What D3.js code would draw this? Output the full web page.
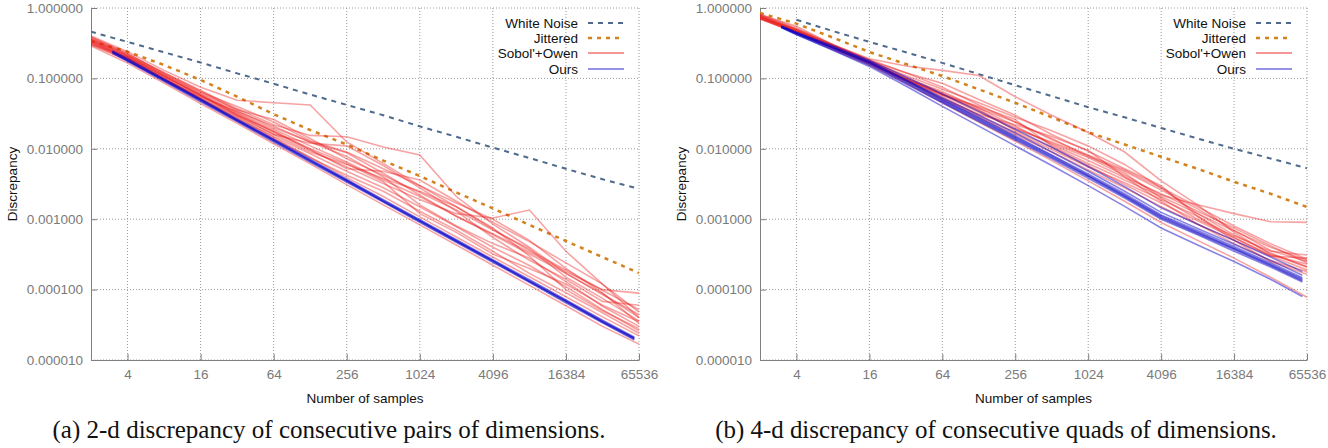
<!DOCTYPE html>
<html><head><meta charset="utf-8">
<script src="https://cdn.jsdelivr.net/npm/d3@7"></script>
<style>body{margin:0;background:#fff;} svg{display:block}</style>
</head><body><svg id="c" width="1328" height="448"></svg>
<script>
// ---------- data ----------
const samples = [2,4,8,16,32,64,128,256,512,1024,2048,4096,8192,16384,32768,65536];
const samplesOurs = [3,4,8,16,32,64,128,256,512,1024,2048,4096,8192,16384,32768,60000];
const xTickLabels = [4,16,64,256,1024,4096,16384,65536];
const yTickValues = [0.00001,0.0001,0.001,0.01,0.1,1];
const legendLabels = ["White Noise","Jittered","Sobol'+Owen","Ours"];
const captions = ["(a) 2-d discrepancy of consecutive pairs of dimensions.",
                  "(b) 4-d discrepancy of consecutive quads of dimensions."];

// 2-d
const whiteNoise2D = [0.46,0.33,0.235,0.168,0.118,0.084,0.059,0.042,0.030,0.0208,0.0148,0.0104,0.0074,0.0052,0.0037,0.0027];
const jittered2D = [0.34,0.24,0.155,0.095,0.055,0.031,0.0185,0.0115,0.0068,0.0041,0.0024,0.00142,0.00083,0.00049,0.00029,0.000172];
const sobolOwen2D = [
 [0.29,0.165,0.086,0.044,0.023,0.0118,0.0061,0.0031,0.0016,0.00083,0.00043,0.000222,0.000115,0.000059,0.000030,0.0000168],
 [0.33,0.19,0.10,0.052,0.028,0.0145,0.0076,0.0039,0.0021,0.00108,0.00056,0.00029,0.000152,0.000079,0.000041,0.000022],
 [0.40,0.24,0.13,0.075,0.049,0.045,0.042,0.0125,0.0062,0.0030,0.0015,0.00072,0.00036,0.00019,0.000098,0.000052],
 [0.36,0.22,0.12,0.068,0.037,0.022,0.0155,0.0148,0.0106,0.0082,0.0021,0.00085,0.00040,0.00017,0.000085,0.000044],
 [0.31,0.20,0.105,0.058,0.031,0.017,0.0095,0.0055,0.0032,0.0019,0.0012,0.00104,0.00135,0.00035,0.00012,0.000048],
 [0.34,0.21,0.11,0.060,0.033,0.019,0.011,0.0065,0.0036,0.0021,0.0011,0.00062,0.00034,0.00018,0.000100,0.000089],
 [0.38,0.23,0.115,0.062,0.036,0.026,0.014,0.0072,0.0042,0.0024,0.00135,0.00070,0.00038,0.000150,0.000075,0.000036],
 [0.32,0.19,0.098,0.053,0.029,0.016,0.0120,0.0110,0.0058,0.0028,0.0013,0.00055,0.00026,0.000140,0.000068,0.000060],
 [0.35,0.20,0.108,0.057,0.030,0.018,0.0098,0.0052,0.0048,0.0036,0.0018,0.00090,0.00048,0.00024,0.00012,0.000040],
 [0.30,0.185,0.097,0.055,0.034,0.021,0.0125,0.0078,0.0040,0.0016,0.00080,0.00045,0.00028,0.000130,0.000058,0.000030],
 [0.37,0.21,0.115,0.064,0.040,0.024,0.013,0.0090,0.0052,0.0030,0.0017,0.00100,0.00050,0.000200,0.000090,0.000033],
 [0.33,0.195,0.10,0.051,0.027,0.015,0.0085,0.0048,0.0028,0.0015,0.00078,0.00040,0.00022,0.000110,0.000052,0.000026],
 [0.39,0.22,0.12,0.066,0.035,0.020,0.0125,0.0088,0.0045,0.0022,0.00110,0.00060,0.00032,0.000170,0.000088,0.000040],
 [0.31,0.18,0.095,0.050,0.026,0.0138,0.0075,0.0042,0.0025,0.0013,0.00070,0.00035,0.00017,0.000090,0.000047,0.000024],
 [0.36,0.21,0.11,0.058,0.032,0.0175,0.010,0.0062,0.0034,0.0012,0.00065,0.00032,0.00020,0.000120,0.000060,0.000035],
 [0.34,0.20,0.105,0.056,0.030,0.016,0.0090,0.0060,0.0038,0.0025,0.00150,0.00075,0.00030,0.000100,0.000050,0.000028]
];
const ours2D = [
 [0.237,0.182,0.0946,0.049,0.0254,0.0131,0.0068,0.00352,0.00182,0.00094,0.00049,0.000254,0.000132,0.000068,0.0000353,0.0000202],
 [0.245,0.19,0.098,0.051,0.0264,0.0137,0.0071,0.00367,0.0019,0.00098,0.00051,0.000265,0.000138,0.000071,0.0000368,0.0000211],
 [0.228,0.175,0.091,0.047,0.0244,0.0126,0.0065,0.00338,0.00175,0.0009,0.00047,0.000244,0.000127,0.000065,0.0000339,0.0000194],
 [0.24,0.18,0.095,0.0495,0.0252,0.0133,0.0068,0.00355,0.0018,0.00095,0.00049,0.000256,0.000131,0.000069,0.0000350,0.0000204]
];

// 4-d
const whiteNoise4D = [null,0.68,0.47,0.33,0.235,0.166,0.115,0.080,0.056,0.039,0.028,0.0198,0.014,0.0100,0.0073,0.0053];
const jittered4D = [0.85,0.60,0.38,0.237,0.16,0.108,0.070,0.045,0.028,0.0172,0.0115,0.0077,0.0052,0.0034,0.0023,0.00149];
const sobolOwen4D = [
 [0.70,0.44,0.26,0.155,0.085,0.045,0.024,0.0128,0.0068,0.0035,0.0018,0.00090,0.00050,0.00028,0.000150,0.000078],
 [0.80,0.55,0.30,0.19,0.15,0.13,0.11,0.055,0.030,0.017,0.0090,0.0035,0.0016,0.00065,0.00032,0.00021],
 [0.75,0.48,0.28,0.17,0.10,0.060,0.035,0.020,0.012,0.0075,0.0042,0.0022,0.0016,0.0012,0.00092,0.00090],
 [0.78,0.50,0.29,0.18,0.12,0.085,0.050,0.030,0.016,0.0092,0.0052,0.0030,0.0011,0.00055,0.00030,0.00028],
 [0.72,0.46,0.28,0.17,0.098,0.058,0.033,0.019,0.0125,0.0080,0.0045,0.0020,0.0010,0.00058,0.00035,0.00031],
 [0.76,0.47,0.27,0.16,0.092,0.052,0.031,0.022,0.015,0.0095,0.0040,0.0018,0.00085,0.00045,0.00026,0.00018],
 [0.74,0.48,0.29,0.175,0.11,0.070,0.045,0.028,0.018,0.0110,0.0060,0.0028,0.0012,0.00060,0.00033,0.00021],
 [0.70,0.45,0.27,0.165,0.095,0.055,0.030,0.017,0.0098,0.0055,0.0033,0.0019,0.0011,0.00050,0.00025,0.000165],
 [0.82,0.52,0.30,0.18,0.105,0.062,0.038,0.024,0.014,0.0078,0.0048,0.0026,0.0014,0.00070,0.00036,0.00025],
 [0.73,0.46,0.28,0.17,0.095,0.058,0.040,0.026,0.011,0.0062,0.0036,0.0021,0.00120,0.00068,0.00040,0.00026],
 [0.77,0.49,0.29,0.17,0.100,0.065,0.038,0.021,0.0115,0.0068,0.0039,0.0023,0.0013,0.00075,0.00042,0.00024],
 [0.71,0.45,0.275,0.165,0.092,0.050,0.028,0.016,0.0090,0.0050,0.0028,0.0015,0.00085,0.00050,0.00030,0.00019],
 [0.79,0.50,0.30,0.185,0.120,0.075,0.042,0.024,0.0135,0.0082,0.0050,0.0028,0.00150,0.00080,0.00045,0.00027],
 [0.74,0.47,0.28,0.165,0.098,0.060,0.036,0.018,0.0105,0.0058,0.0031,0.0017,0.00095,0.00054,0.00031,0.00023]
];
const ours4D = [
 [0.54,0.436,0.27,0.166,0.09,0.048,0.026,0.0142,0.0077,0.0041,0.00214,0.00107,0.00064,0.00038,0.000224,0.000137],
 [0.545,0.44,0.275,0.17,0.093,0.0495,0.027,0.0147,0.0080,0.0042,0.0022,0.00111,0.00066,0.00039,0.00023,0.000142],
 [0.535,0.43,0.265,0.162,0.087,0.0465,0.0252,0.0138,0.0075,0.0040,0.00208,0.00104,0.00062,0.00037,0.000218,0.000133],
 [0.55,0.45,0.28,0.175,0.096,0.051,0.028,0.0152,0.0082,0.0044,0.0023,0.00115,0.00069,0.00041,0.00024,0.000147],
 [0.53,0.42,0.255,0.155,0.084,0.045,0.0243,0.0133,0.0072,0.0038,0.0020,0.00100,0.00060,0.00035,0.00021,0.000128],
 [0.54,0.44,0.275,0.17,0.095,0.053,0.030,0.0168,0.0090,0.0048,0.0025,0.00125,0.00074,0.00044,0.00026,0.000160],
 [0.55,0.45,0.29,0.18,0.105,0.060,0.034,0.019,0.0105,0.0056,0.0029,0.00145,0.00085,0.00050,0.00029,0.000180],
 [0.53,0.42,0.25,0.148,0.078,0.040,0.021,0.0110,0.0058,0.0030,0.00152,0.00075,0.00043,0.00025,0.000140,0.000080]
];

// ---------- drawing ----------
const svg = d3.select("#c");
const TOP = 8, BOTTOM = 360;
const FONT = "'Liberation Sans', Arial, sans-serif";
const COL_WN = "#4f6a8c", COL_JIT = "#d4821c";
const COL_SOB = "rgb(235,25,25)", COL_OURS = "rgb(20,10,200)";

function drawChart(id, left, right, wn, jit, sob, ours, oursOpacity, captionText, capCenter) {
  const g = svg.append("g");
  const x = d3.scaleLog().base(2).domain([2, 65536]).range([left, right]);
  const y = d3.scaleLog().domain([0.00001, 1]).range([BOTTOM, TOP]);

  // grid
  g.append("g").selectAll("line").data(xTickLabels).join("line")
    .attr("x1", d => x(d)).attr("x2", d => x(d)).attr("y1", TOP).attr("y2", BOTTOM)
    .attr("stroke", "#9a9a9a").attr("stroke-width", 1).attr("stroke-dasharray", "1,2");
  g.append("g").selectAll("line").data(yTickValues).join("line")
    .attr("x1", left).attr("x2", right).attr("y1", d => y(d)).attr("y2", d => y(d))
    .attr("stroke", "#9a9a9a").attr("stroke-width", 1).attr("stroke-dasharray", "1,2");

  // minor ticks
  const xMinor = [];
  for (let n = 0; n < 8; n++) for (let k = 1; k <= 9; k++) {
    const v = Math.pow(4, n) * (1 + 0.3 * k);
    if (v > 2 && v < 65536) xMinor.push(v);
  }
  const yMinor = [];
  for (let e = -5; e < 0; e++) for (let m = 2; m <= 9; m++) yMinor.push(m * Math.pow(10, e));

  const gx = g.append("g").attr("transform", `translate(0,${BOTTOM})`);
  gx.call(d3.axisBottom(x).tickValues(xMinor).tickSize(-3).tickSizeOuter(0).tickFormat(""));
  gx.call(d3.axisBottom(x).tickValues(xTickLabels).tickSize(-6).tickSizeOuter(0).tickPadding(9).tickFormat(d3.format("d")));
  const gy = g.append("g").attr("transform", `translate(${left},0)`);
  gy.call(d3.axisLeft(y).tickValues(yMinor).tickSize(-4).tickSizeOuter(0).tickFormat(""));
  gy.call(d3.axisLeft(y).tickValues(yTickValues).tickSize(-6).tickSizeOuter(0).tickPadding(8).tickFormat(d3.format(".6f")));
  g.selectAll(".domain").attr("stroke", "#808080").attr("stroke-width", 1);
  g.selectAll(".tick line").attr("stroke", "#808080");
  g.selectAll(".tick text").attr("fill", "#7a7a7a").style("font-family", FONT).style("font-size", "13.5px");

  // axis titles
  g.append("text").attr("x", (left + right) / 2).attr("y", 403).attr("text-anchor", "middle")
    .style("font-family", FONT).style("font-size", "13.5px").attr("fill", "#111").text("Number of samples");
  g.append("text").attr("transform", `translate(${left - 74},${(TOP + BOTTOM) / 2}) rotate(-90)`)
    .attr("text-anchor", "middle").style("font-family", FONT).style("font-size", "13.5px")
    .attr("fill", "#111").text("Discrepancy");

  // clip
  svg.append("clipPath").attr("id", "clip" + id).append("rect")
    .attr("x", left).attr("y", TOP).attr("width", right - left).attr("height", BOTTOM - TOP);
  const plot = g.append("g").attr("clip-path", `url(#clip${id})`);
  const line = d3.line().defined(d => d[1] != null).x(d => x(d[0])).y(d => y(d[1]));
  const pairs = (xs, ys) => xs.map((v, i) => [v, ys[i]]);

  plot.append("path").attr("d", line(pairs(samples, wn))).attr("fill", "none")
    .attr("stroke", COL_WN).attr("stroke-width", 2).attr("stroke-dasharray", "5,5");
  plot.append("path").attr("d", line(pairs(samples, jit))).attr("fill", "none")
    .attr("stroke", COL_JIT).attr("stroke-width", 2.5).attr("stroke-dasharray", "4,5");
  sob.forEach(s => plot.append("path").attr("d", line(pairs(samples, s))).attr("fill", "none")
    .attr("stroke", COL_SOB).attr("stroke-opacity", 0.4).attr("stroke-width", 1.6));
  ours.forEach(s => plot.append("path").attr("d", line(pairs(samplesOurs, s))).attr("fill", "none")
    .attr("stroke", COL_OURS).attr("stroke-opacity", oursOpacity).attr("stroke-width", 1.6));

  // legend
  const lg = g.append("g");
  const rowsY = [23, 38, 53, 69];
  const styles = [
    {c: COL_WN, w: 2, da: "5,5", o: 1},
    {c: COL_JIT, w: 2.5, da: "4,5", o: 1},
    {c: COL_SOB, w: 2, da: null, o: 0.45},
    {c: COL_OURS, w: 2, da: null, o: 0.45}
  ];
  legendLabels.forEach((lab, i) => {
    lg.append("text").attr("x", right - 61).attr("y", rowsY[i]).attr("dy", "0.35em")
      .attr("text-anchor", "end").style("font-family", FONT).style("font-size", "13.5px")
      .attr("fill", "#111").text(lab);
    const st = styles[i];
    const l = lg.append("line").attr("x1", right - 51).attr("x2", right - 15)
      .attr("y1", rowsY[i]).attr("y2", rowsY[i]).attr("stroke", st.c)
      .attr("stroke-width", st.w).attr("stroke-opacity", st.o);
    if (st.da) l.attr("stroke-dasharray", st.da);
  });

  // caption
  const cap = svg.append("text").attr("x", capCenter).attr("y", 438).attr("text-anchor", "middle")
    .style("font-family", "'Liberation Serif', 'Times New Roman', serif").style("font-size", "22px")
    .attr("fill", "#111").text(captionText);
  return cap;
}

const capA = drawChart("a", 91, 639, whiteNoise2D, jittered2D, sobolOwen2D, ours2D, 0.62, captions[0], 329);
const capB = drawChart("b", 760, 1307, whiteNoise4D, jittered4D, sobolOwen4D, ours4D, 0.5, captions[1], 996);
// fit caption widths
[[capA, 553], [capB, 562]].forEach(([c, w]) => {
  const len = c.node().getComputedTextLength();
  c.style("font-size", (22 * w / len).toFixed(2) + "px");
});
</script></body></html>
